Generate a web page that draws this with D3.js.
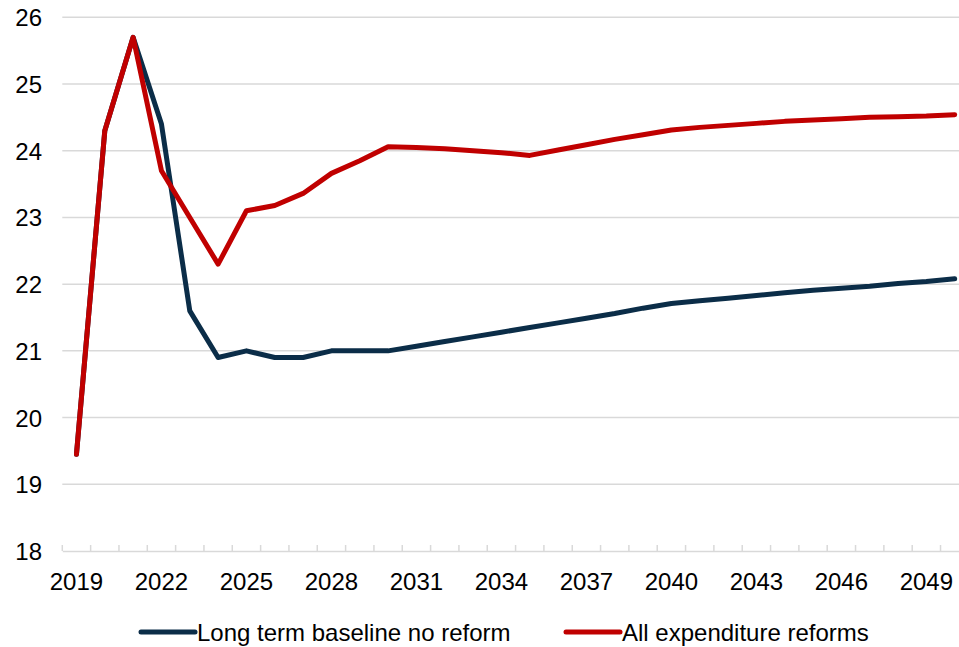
<!DOCTYPE html>
<html>
<head>
<meta charset="utf-8">
<script src="https://cdn.jsdelivr.net/npm/d3@7"></script>
<style>
  html, body { margin: 0; padding: 0; background: #fff; overflow: hidden; }
  svg { display: block; font-family: Arial, "Liberation Sans", sans-serif; }
</style>
</head>
<body>
<svg id="chart" width="959" height="647"></svg>
<script>
// Years on the category axis
const years = d3.range(2019, 2051);

// Long term baseline, no reform
const baseline = [
  19.45, 24.3, 25.7, 24.4, 21.6, 20.9, 21.0, 20.9, 20.9, 21.0,
  21.0, 21.0, 21.07, 21.14, 21.21, 21.28, 21.35, 21.42, 21.49, 21.56,
  21.64, 21.71, 21.75, 21.79, 21.83, 21.87, 21.91, 21.94, 21.97, 22.01,
  22.04, 22.08
];

// All expenditure reforms
const reforms = [
  19.45, 24.3, 25.7, 23.7, 23.0, 22.3, 23.1, 23.18, 23.36, 23.66,
  23.85, 24.06, 24.05, 24.03, 24.0, 23.97, 23.93, 24.01, 24.09, 24.17,
  24.24, 24.31, 24.35, 24.38, 24.41, 24.44, 24.46, 24.48, 24.5, 24.51,
  24.52, 24.54
];

const yTicks = [18, 19, 20, 21, 22, 23, 24, 25, 26];
const xLabelYears = [2019, 2022, 2025, 2028, 2031, 2034, 2037, 2040, 2043, 2046, 2049];

const seriesNames = ["Long term baseline no reform", "All expenditure reforms"];
const seriesColors = ["#0b2d48", "#c00000"];

const fontSize = 24;
const svg = d3.select("#chart");

const left = 62.3, step = 28.33;
const x = d3.scaleBand()
  .domain(years)
  .range([left, left + step * years.length])
  .paddingInner(0).paddingOuter(0);

const y = d3.scaleLinear().domain([18, 26]).range([551, 17.3]);

// Horizontal gridlines
svg.append("g")
  .selectAll("line")
  .data(yTicks.filter(d => d !== 18))
  .join("line")
  .attr("x1", left).attr("x2", 959)
  .attr("y1", d => y(d)).attr("y2", d => y(d))
  .attr("stroke", "#d9d9d9").attr("stroke-width", 1.5);

// Y labels
svg.append("g")
  .selectAll("text")
  .data(yTicks)
  .join("text")
  .attr("x", 42).attr("y", d => y(d) + 9)
  .attr("text-anchor", "end")
  .attr("font-size", fontSize).attr("fill", "#000")
  .text(d => d);

// X axis line and tick marks
const xAxis = d3.axisBottom(x)
  .tickValues([])
  .tickSizeOuter(0);
const gx = svg.append("g").attr("transform", `translate(0,${y(18)})`).call(xAxis);
gx.select(".domain").attr("stroke", "#d9d9d9").attr("stroke-width", 1.5);

const tickPos = years.map(d => x(d)).concat([x(years[years.length - 1]) + x.bandwidth()]);
svg.append("g")
  .selectAll("line")
  .data(tickPos)
  .join("line")
  .attr("x1", d => d).attr("x2", d => d)
  .attr("y1", y(18) - 6).attr("y2", y(18))
  .attr("stroke", "#d9d9d9").attr("stroke-width", 1.5);

// X labels every third year
svg.append("g")
  .selectAll("text")
  .data(xLabelYears)
  .join("text")
  .attr("x", d => x(d) + x.bandwidth() / 2)
  .attr("y", 589.5)
  .attr("text-anchor", "middle")
  .attr("font-size", fontSize).attr("fill", "#000")
  .text(d => d);

// Lines
const line = d3.line()
  .x((d, i) => x(years[i]) + x.bandwidth() / 2)
  .y(d => y(d));

[baseline, reforms].forEach((vals, i) => {
  svg.append("path")
    .datum(vals)
    .attr("d", line)
    .attr("fill", "none")
    .attr("stroke", seriesColors[i])
    .attr("stroke-width", 5)
    .attr("stroke-linejoin", "round")
    .attr("stroke-linecap", "round");
});

// Legend
const legendX = [141, 566];
const lg = svg.append("g");
seriesNames.forEach((name, i) => {
  lg.append("line")
    .attr("x1", legendX[i]).attr("x2", legendX[i] + 54)
    .attr("y1", 632).attr("y2", 632)
    .attr("stroke", seriesColors[i]).attr("stroke-width", 5)
    .attr("stroke-linecap", "round");
  lg.append("text")
    .attr("x", legendX[i] + 56).attr("y", 640.5)
    .attr("font-size", fontSize).attr("fill", "#000")
    .text(name);
});
</script>
</body>
</html>
